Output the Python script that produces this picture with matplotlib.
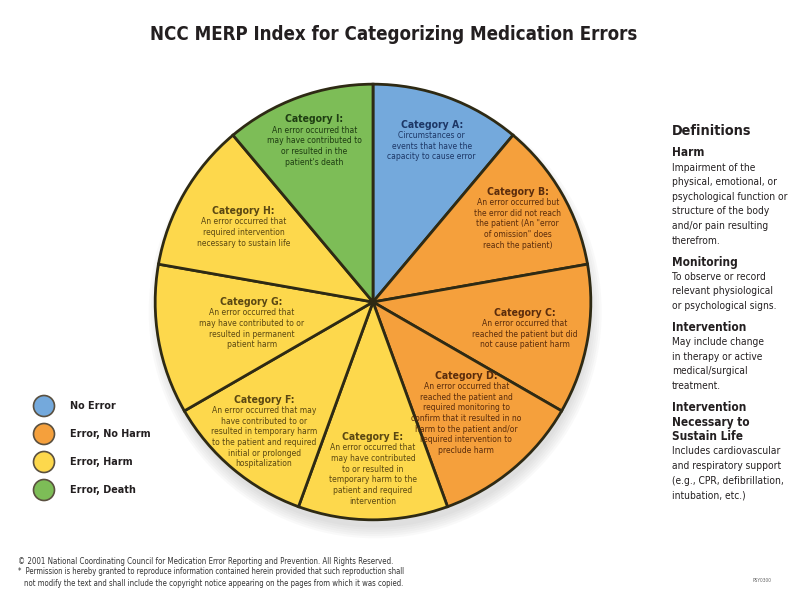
import os
import matplotlib
matplotlib.use("Agg")
import matplotlib.pyplot as plt
from matplotlib import font_manager as fm
from matplotlib.patches import Circle
import numpy as np

# ---- data ----
categories = ["A", "B", "C", "D", "E", "F", "G", "H", "I"]
descriptions = [
    "Circumstances or\nevents that have the\ncapacity to cause error",
    "An error occurred but\nthe error did not reach\nthe patient (An \"error\nof omission\" does\nreach the patient)",
    "An error occurred that\nreached the patient but did\nnot cause patient harm",
    "An error occurred that\nreached the patient and\nrequired monitoring to\nconfirm that it resulted in no\nharm to the patient and/or\nrequired intervention to\npreclude harm",
    "An error occurred that\nmay have contributed\nto or resulted in\ntemporary harm to the\npatient and required\nintervention",
    "An error occurred that may\nhave contributed to or\nresulted in temporary harm\nto the patient and required\ninitial or prolonged\nhospitalization",
    "An error occurred that\nmay have contributed to or\nresulted in permanent\npatient harm",
    "An error occurred that\nrequired intervention\nnecessary to sustain life",
    "An error occurred that\nmay have contributed to\nor resulted in the\npatient's death",
]
groups = ["No Error", "Error, No Harm", "Error, No Harm", "Error, No Harm",
          "Error, Harm", "Error, Harm", "Error, Harm", "Error, Harm", "Error, Death"]
shares = [1, 1, 1, 1, 1, 1, 1, 1, 1]

legend_labels = ["No Error", "Error, No Harm", "Error, Harm", "Error, Death"]

definitions = [
    ("Harm", "Impairment of the\nphysical, emotional, or\npsychological function or\nstructure of the body\nand/or pain resulting\ntherefrom."),
    ("Monitoring", "To observe or record\nrelevant physiological\nor psychological signs."),
    ("Intervention", "May include change\nin therapy or active\nmedical/surgical\ntreatment."),
    ("Intervention\nNecessary to\nSustain Life", "Includes cardiovascular\nand respiratory support\n(e.g., CPR, defibrillation,\nintubation, etc.)"),
]

# ---- fonts: prefer a condensed face if one is installed ----
def find_font(patterns):
    files = [f.fname for f in fm.fontManager.ttflist]
    for pat in patterns:
        for fn in files:
            if os.path.basename(fn).lower().startswith(pat.lower()):
                return fn
    return None

bold_file = find_font(["LiberationSansNarrow-Bold.", "DejaVuSansCondensed-Bold.",
                       "RobotoCondensed-Bold.", "Roboto_Condensed-Bold."])
reg_file = find_font(["LiberationSansNarrow-Regular.", "DejaVuSansCondensed.",
                      "RobotoCondensed-Regular.", "Roboto_Condensed-Regular."])

def fp(size, bold=False):
    f = bold_file if bold else reg_file
    if f:
        return fm.FontProperties(fname=f, size=size)
    return fm.FontProperties(family="DejaVu Sans", size=size,
                             weight="bold" if bold else "normal")

# ---- styles ----
fill = {"No Error": "#74a9dc", "Error, No Harm": "#f5a03c",
        "Error, Harm": "#fdd84c", "Error, Death": "#7dbd57"}
ink = {"No Error": "#1d3766", "Error, No Harm": "#5a2c0c",
       "Error, Harm": "#5a4712", "Error, Death": "#1e3d12"}
label_r = [0.78, 0.76, 0.70, 0.66, 0.76, 0.77, 0.56, 0.68, 0.78]

W, H = 791, 596
fig = plt.figure(figsize=(W / 100, H / 100), dpi=100)
renderer = fig.canvas.get_renderer()

def size_for(s, bold, width, base=10.0):
    # font size at which a string spans the given width in pixels
    t = fig.text(0, 0, s, fontproperties=fp(base, bold))
    w = t.get_window_extent(renderer).width
    t.remove()
    return base * width / w

# pie
cx, cy, R = 373, 302, 220
ax = fig.add_axes([(cx - R) / W, (H - cy - R) / H, 2 * R / W, 2 * R / H])
ax.set_zorder(0)
wedges, _ = ax.pie(shares, colors=[fill[g] for g in groups], startangle=90,
                   counterclock=False, radius=1,
                   wedgeprops=dict(edgecolor="#2e2a14", linewidth=2.0))
# soft shadow under the pie
for k in range(6):
    ax.add_patch(Circle((0.01, -0.045), 0.99 + 0.01 * k, facecolor="#555555",
                        edgecolor="none", alpha=0.03, zorder=0.5, clip_on=False))
ax.set_xlim(-1.01, 1.01)
ax.set_ylim(-1.01, 1.01)

bg = fig.add_axes([0, 0, 1, 1])
bg.set_zorder(2)
bg.set_xlim(0, W)
bg.set_ylim(H, 0)
bg.axis("off")

# slice labels, one line at a time (pixel coordinates)
head_size = size_for("Category A:", True, 56) * 1.1
body_size = size_for("reached the patient but did", False, 105)
lh = 10.7
for i, w in enumerate(wedges):
    mid = np.deg2rad((w.theta1 + w.theta2) / 2)
    x = cx + label_r[i] * R * np.cos(mid)
    y = cy - label_r[i] * R * np.sin(mid)
    lines = descriptions[i].split("\n")
    top = y - lh * len(lines) / 2
    c = ink[groups[i]]
    bg.text(x, top, "Category %s:" % categories[i], ha="center", va="center",
            fontproperties=fp(head_size, True), color=c)
    for j, ln in enumerate(lines):
        bg.text(x, top + lh * (j + 1), ln, ha="center", va="center",
                fontproperties=fp(body_size), color=c)

# title
title = "NCC MERP Index for Categorizing Medication Errors"
bg.text(150, 35, title, ha="left", va="center",
        fontproperties=fp(size_for(title, True, 487), True), color="#231f20")

# legend
leg_size = size_for("Error, No Harm", True, 64) * 1.25
for k, lab in enumerate(legend_labels):
    yy = 406 + 28 * k
    bg.add_patch(Circle((44, yy), 10.5, facecolor=fill[lab], edgecolor="#5a5040", lw=1.2))
    bg.text(70, yy, lab, ha="left", va="center", fontproperties=fp(leg_size, True),
            color="#231f20")

# definitions
bg.text(672, 131, "Definitions", ha="left", va="center",
        fontproperties=fp(size_for("Definitions", True, 61) * 1.3, True), color="#231f20")
dh_size = size_for("Intervention", True, 59) * 1.25
db_size = size_for("psychological function or", False, 114)
yy = 153
for head, body in definitions:
    for ln in head.split("\n"):
        bg.text(672, yy, ln, ha="left", va="center", fontproperties=fp(dh_size, True),
                color="#231f20")
        yy += 14.6
    for ln in body.split("\n"):
        bg.text(672, yy, ln, ha="left", va="center", fontproperties=fp(db_size),
                color="#231f20")
        yy += 14.6
    yy += 7

# footer
foot = ["\u00a9 2001 National Coordinating Council for Medication Error Reporting and Prevention. All Rights Reserved.",
        "*  Permission is hereby granted to reproduce information contained herein provided that such reproduction shall",
        "not modify the text and shall include the copyright notice appearing on the pages from which it was copied."]
bg.text(18, 561, foot[0], ha="left", va="center",
        fontproperties=fp(size_for(foot[0], False, 378)), color="#333333")
bg.text(18, 572, foot[1], ha="left", va="center",
        fontproperties=fp(size_for(foot[1], False, 390)), color="#333333")
bg.text(24, 583, foot[2], ha="left", va="center",
        fontproperties=fp(size_for(foot[2], False, 378)), color="#333333")
bg.text(762, 580, "PSY0300", ha="center", va="center", fontproperties=fp(3.5), color="#666666")

fig.savefig("out.png", dpi=100)
